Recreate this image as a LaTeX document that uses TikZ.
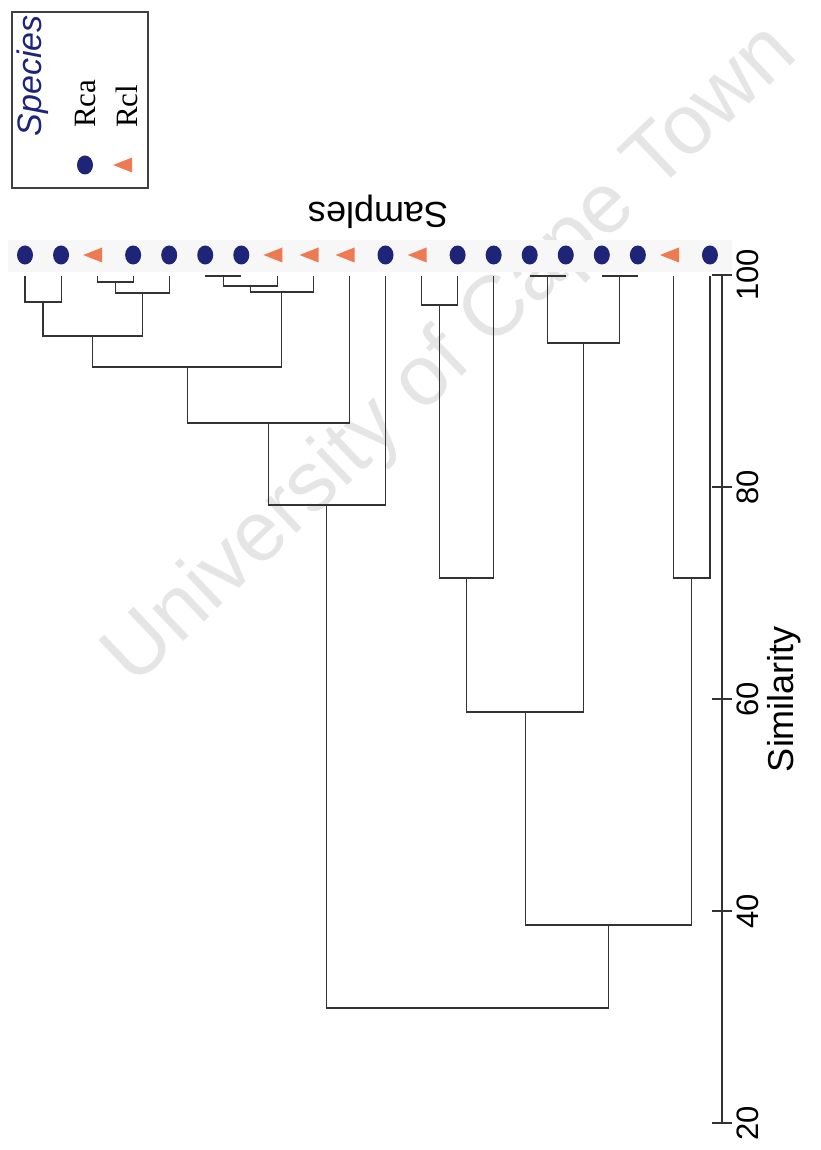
\documentclass[tikz,border=0pt]{standalone}
\usepackage{fontspec}
\setmainfont{Liberation Serif}
\setsansfont{Liberation Sans}
\usetikzlibrary{shapes.geometric,calc}
\definecolor{rcablue}{RGB}{30,36,120}
\definecolor{rclorange}{RGB}{238,122,82}
\tikzset{branch/.style={line width=1.1pt,black!80},
    rca/.style={ellipse,fill=rcablue,minimum width=16pt,minimum height=19pt,inner sep=0pt},
    rcl/.style={isosceles triangle,isosceles triangle stretches,shape border rotate=180,
        fill=rclorange,minimum width=15pt,minimum height=19pt,inner sep=0pt},
    scale label/.style={font=\sffamily\fontsize{31}{31}\selectfont,rotate=90,anchor=north,inner sep=0pt},
    }
\newcommand\merge[4]{% node, child, child, height
    \path let \p1=(#2), \p2=(#3) in coordinate (#1) at ({(\x1+\x2)/2},#4);
    \draw[branch] (#2) |- (#1) -| (#3);}

\begin{document}
\begin{tikzpicture}[x=1pt,y=-1pt]
	\useasboundingbox (0,0) rectangle (821,1150);
	\node[rotate=43.5,text=black!10,font=\sffamily\fontsize{85}{85}\selectfont] (crest) at (452,356) {University of Cape Town};
	\fill[black!3] (8,240) rectangle (732,272);
	% samples
	\foreach \sp [count=\i from 0] in {rca,rca,rcl,rca,rca,rca,rca,rcl,rcl,rcl,rca,rcl,rca,rca,rca,rca,rca,rca,rcl,rca}{
		\node[\sp] (s\i) at ({25+36.05*\i},255) {};
		\coordinate (t\i) at ({25+36.05*\i},276);
	}
	\node[rotate=180,font=\sffamily\fontsize{36}{36}\selectfont] (samples) at (378,212) {Samples};
	% legend
	\node[draw=black!75,line width=1.2pt,minimum width=136pt,minimum height=176pt,inner sep=0pt] (key) at (80,100) {};
	\node[rotate=90,text=rcablue,font=\sffamily\itshape\fontsize{34}{34}\selectfont] (title) at (33,76) {Species};
	\node[rca] (kca) at (85,165) {};
	\node[rcl] (kcl) at (127,165) {};
	\node[rotate=90,anchor=base west,inner sep=0pt,font=\fontsize{31}{31}\selectfont] (tca) at (95,128) {Rca};
	\node[rotate=90,anchor=base west,inner sep=0pt,font=\fontsize{31}{31}\selectfont] (tcl) at (137,128) {Rcl};
	% similarity axis
	\coordinate (a100) at (722,275);
	\coordinate (a20) at (722,1123);
	\draw[branch] (a100) -- (a20);
	\foreach \v in {100,80,60,40,20}{
		\coordinate (k\v) at (722,{275+(100-\v)*10.6});
		\draw[branch] ([xshift=-10pt]k\v) -- ([xshift=10pt]k\v);
		\node[scale label] (n\v) at (737,{275+(100-\v)*10.6}) {\v};
	}
	\node[scale label,font=\sffamily\fontsize{36}{36}\selectfont] (simil) at (767,699) {Similarity};
	% dendrogram
	\merge{m1}{t0}{t1}{302}
	\merge{m2}{t2}{t3}{282}
	\merge{m3}{m2}{t4}{293}
	\merge{m4}{m1}{m3}{336}
	\merge{m5}{t5}{t6}{276}
	\merge{m6}{m5}{t7}{286}
	\merge{m7}{m6}{t8}{292}
	\merge{m8}{m4}{m7}{367}
	\merge{m9}{m8}{t9}{423}
	\merge{m10}{m9}{t10}{505}%left group
	\merge{m11}{t11}{t12}{305}
	\merge{m12}{m11}{t13}{578}
	\merge{m13}{t14}{t15}{276}
	\merge{m14}{t16}{t17}{276}
	\merge{m15}{m13}{m14}{343}
	\merge{m16}{m12}{m15}{712}
	\merge{m17}{t18}{t19}{578}
	\merge{m18}{m16}{m17}{925}%right group
	\merge{m19}{m10}{m18}{1008}%root
\end{tikzpicture}
\end{document}
